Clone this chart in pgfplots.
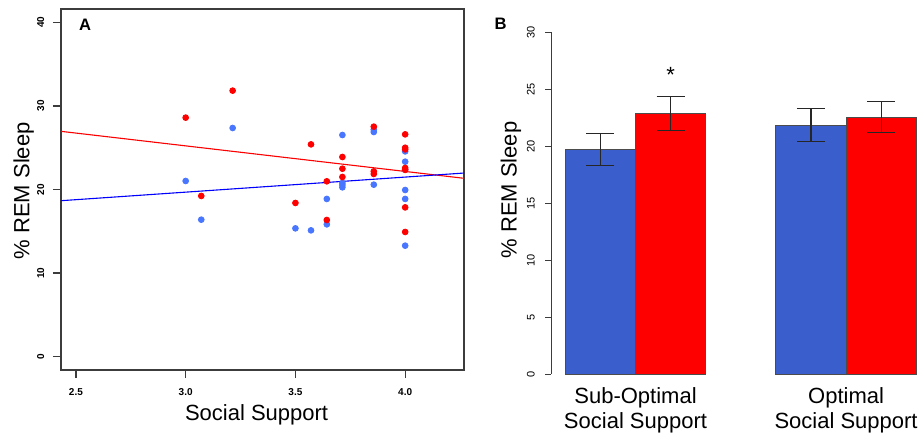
\documentclass[border=0pt]{standalone}
\usepackage{fontspec}
\setmainfont{Liberation Sans}
\usepackage{pgfplots}
\pgfplotsset{compat=1.18}

\definecolor{ptblue}{RGB}{72,118,255}
\definecolor{barblue}{RGB}{58,95,205}
\definecolor{axisgray}{RGB}{60,60,60}

% scatter data, panel A (social support vs % REM)
\pgfplotstableread{
x y
3.000 21.02
3.071 16.39
3.214 27.36
3.500 15.35
3.571 15.11
3.643 18.87
3.643 15.83
3.714 26.52
3.714 20.78
3.714 20.54
3.714 20.26
3.857 27.16
3.857 26.88
3.857 20.58
4.000 24.56
4.000 23.33
4.000 22.37
4.000 19.94
4.000 18.87
4.000 13.28
}\bluepts

\pgfplotstableread{
x y
3.000 28.60
3.071 19.23
3.214 31.83
3.500 18.39
3.571 25.40
3.643 20.98
3.643 16.35
3.714 23.89
3.714 22.49
3.714 21.50
3.857 27.52
3.857 22.17
3.857 21.86
4.000 26.60
4.000 25.00
4.000 24.80
4.000 22.58
4.000 22.35
4.000 17.86
4.000 14.92
}\redpts

\begin{document}
\begin{tikzpicture}
\useasboundingbox (0,0) rectangle (461pt,218pt);

% ---- panel A ----
\begin{axis}[
    at={(30.5pt,33pt)}, anchor=south west,
    scale only axis, width=201.5pt, height=180.5pt,
    xmin=2.432, xmax=4.268, ymin=-1.6, ymax=41.6,
    xtick={2.5,3,3.5,4}, ytick={0,10,20,30,40},
    xtick pos=bottom, ytick pos=left,
    tick align=outside, major tick length=4pt,
    axis line style={draw=axisgray, line width=0.75pt},
    tick style={draw=axisgray, line width=0.6pt},
    /pgf/number format/assume math mode=true,
    xticklabel={\pgfmathprintnumber[fixed,fixed zerofill,precision=1]{\tick}},
    ticklabel style={font=\fontsize{5}{6}\selectfont\bfseries},
    yticklabel style={rotate=90, anchor=south},
    xticklabel shift=1.8pt, yticklabel shift=0.8pt,
]
\addplot[only marks, mark=*, mark size=1.45pt, color=ptblue] table {\bluepts};
\addplot[only marks, mark=*, mark size=1.45pt, color=red] table {\redpts};
\addplot[red, line width=0.55pt] coordinates {(2.432,26.96) (4.268,21.34)};
\addplot[blue, line width=0.55pt] coordinates {(2.432,18.66) (4.268,21.97)};
\end{axis}

\node[font=\fontsize{8.3}{10}\selectfont\bfseries] at (42.5pt,205.85pt) {A};
\node[rotate=90, anchor=base, font=\fontsize{11}{13}\selectfont] at (14.65pt,122.6pt) {\% REM Sleep};
\node[anchor=base, font=\fontsize{11}{13}\selectfont] at (128.3pt,7.65pt) {Social Support};

% ---- panel B ----
\begin{axis}[
    at={(275.65pt,31pt)}, anchor=south west,
    scale only axis, width=189.5pt, height=170.85pt,
    xmin=0.8, xmax=6.2, ymin=0, ymax=30,
    axis y line*=left, axis x line*=bottom,
    x axis line style={draw=none},
    y axis line style={draw=axisgray, line width=0.5pt},
    ytick={0,5,...,30}, xtick={2,5},
    xticklabels={{Sub-Optimal\\Social Support},{Optimal\\Social Support}},
    xticklabel style={align=center, font=\fontsize{11}{12.5}\selectfont},
    major x tick style={draw=none},
    ytick style={draw=axisgray, line width=0.5pt},
    tick align=outside, major tick length=3pt,
    /pgf/number format/assume math mode=true,
    yticklabel style={rotate=90, anchor=south, font=\fontsize{5.5}{6.5}\selectfont},
    yticklabel shift=1.8pt, xticklabel shift=0pt,
    clip=false,
]
\addplot[ybar, bar width=1, bar shift=0pt, fill=barblue, draw=black!70, line width=0.4pt,
    error bars/.cd, y dir=both, y explicit,
    error bar style={black!85, line width=0.6pt},
    error mark options={rotate=90, black!85, line width=0.6pt, mark size=7pt}]
    coordinates {(1.5,19.72) +- (0,1.39) (4.5,21.86) +- (0,1.43)};
\addplot[ybar, bar width=1, bar shift=0pt, fill=red, draw=black!70, line width=0.4pt,
    error bars/.cd, y dir=both, y explicit,
    error bar style={black!85, line width=0.6pt},
    error mark options={rotate=90, black!85, line width=0.6pt, mark size=7pt}]
    coordinates {(2.5,22.86) +- (0,1.49) (5.5,22.56) +- (0,1.36)};
\node[anchor=base, font=\fontsize{11}{13}\selectfont] at (axis cs:2.5,25.6) {*};
\end{axis}

\node[font=\fontsize{8.3}{10}\selectfont\bfseries] at (250.35pt,206pt) {B};
\node[rotate=90, anchor=base, font=\fontsize{11}{13}\selectfont] at (258.35pt,123pt) {\% REM Sleep};
\end{tikzpicture}
\end{document}
